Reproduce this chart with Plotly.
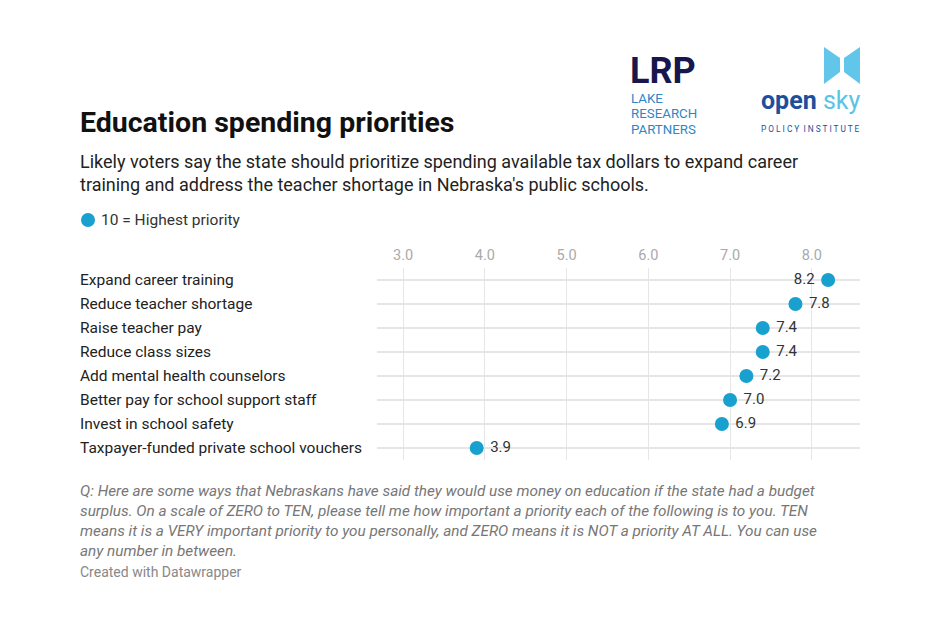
import plotly.graph_objects as go

categories = [
    "Expand career training",
    "Reduce teacher shortage",
    "Raise teacher pay",
    "Reduce class sizes",
    "Add mental health counselors",
    "Better pay for school support staff",
    "Invest in school safety",
    "Taxpayer-funded private school vouchers",
]
values = [8.2, 7.8, 7.4, 7.4, 7.2, 7.0, 6.9, 3.9]
value_labels = ["8.2", "7.8", "7.4", "7.4", "7.2", "7.0", "6.9", "3.9"]
tick_vals = [3, 4, 5, 6, 7, 8]
tick_text = ["3.0", "4.0", "5.0", "6.0", "7.0", "8.0"]

W, H = 940, 644
L, R, T, B = 377, 80, 268, 184
PW, PH = W - L - R, H - T - B

def px(x):
    return (x - L) / PW

def py(y):
    return (H - B - y) / PH

DOT = "#18a0cf"
FONT = "Roboto"

positions = ["middle left"] + ["middle right"] * (len(values) - 1)

fig = go.Figure()
fig.add_trace(go.Scatter(
    x=values, y=categories, mode="markers+text",
    marker=dict(size=14, color=DOT),
    text=[(" " + t + " ") for t in value_labels],
    textposition=positions,
    textfont=dict(family=FONT, size=15, color="#333333"),
    hoverinfo="skip", showlegend=False, cliponaxis=False,
))

annotations = []
for c in categories:
    annotations.append(dict(x=px(78), y=c, xref="paper", yref="y", text=c,
                            showarrow=False, xanchor="left", yanchor="middle",
                            font=dict(family=FONT, size=15.5, color="#222222")))

annotations += [
    dict(x=px(78), y=py(122), xref="paper", yref="paper",
         text="<b>Education spending priorities</b>", showarrow=False,
         xanchor="left", yanchor="middle",
         font=dict(family=FONT, size=28.5, color="#111111")),
    dict(x=px(78), y=py(173), xref="paper", yref="paper",
         text="Likely voters say the state should prioritize spending available tax dollars to expand career<br>training and address the teacher shortage in Nebraska's public schools.",
         showarrow=False, xanchor="left", yanchor="middle", align="left",
         font=dict(family=FONT, size=18, color="#222222")),
    dict(x=px(99), y=py(220), xref="paper", yref="paper",
         text="10 = Highest priority", showarrow=False, xanchor="left", yanchor="middle",
         font=dict(family=FONT, size=15.5, color="#333333")),
    dict(x=px(78), y=py(521), xref="paper", yref="paper",
         text="<i>Q: Here are some ways that Nebraskans have said they would use money on education if the state had a budget<br>surplus. On a scale of ZERO to TEN, please tell me how important a priority each of the following is to you. TEN<br>means it is a VERY important priority to you personally, and ZERO means it is NOT a priority AT ALL. You can use<br>any number in between.</i>",
         showarrow=False, xanchor="left", yanchor="middle", align="left",
         font=dict(family=FONT, size=15.3, color="#777777")),
    dict(x=px(78), y=py(572), xref="paper", yref="paper",
         text="Created with Datawrapper", showarrow=False, xanchor="left", yanchor="middle",
         font=dict(family=FONT, size=14, color="#888888")),
    # LRP logo text
    dict(x=px(628), y=py(71), xref="paper", yref="paper",
         text="<b>LRP</b>", showarrow=False, xanchor="left", yanchor="middle",
         font=dict(family="Roboto", size=36, color="#17174d")),
    dict(x=px(629), y=py(98), xref="paper", yref="paper",
         text="LAKE", showarrow=False, xanchor="left", yanchor="middle",
         font=dict(family="Roboto", size=13.3, color="#2f86c6")),
    dict(x=px(629), y=py(113.5), xref="paper", yref="paper",
         text="RESEARCH", showarrow=False, xanchor="left", yanchor="middle",
         font=dict(family="Roboto", size=13.3, color="#2f86c6")),
    dict(x=px(629), y=py(129), xref="paper", yref="paper",
         text="PARTNERS", showarrow=False, xanchor="left", yanchor="middle",
         font=dict(family="Roboto", size=13.3, color="#2f86c6")),
    # Open sky logo text
    dict(x=px(759), y=py(100), xref="paper", yref="paper",
         text="<b><span style='color:#1c4f9c'>open</span></b> <span style='color:#5bc3e6'>sky</span>",
         showarrow=False, xanchor="left", yanchor="middle",
         font=dict(family="Roboto", size=25, color="#1c4f9c")),
    dict(x=px(810), y=py(129), xref="paper", yref="paper",
         text="P O L I C Y  I N S T I T U T E", showarrow=False, xanchor="center", yanchor="middle",
         font=dict(family="Roboto", size=8.3, color="#1c4f9c")),
]

shapes = [
    dict(type="circle", xref="paper", yref="paper",
         x0=px(81), x1=px(95), y0=py(213), y1=py(227),
         fillcolor=DOT, line=dict(width=0)),
    dict(type="path", xref="paper", yref="paper",
         path=f"M {px(824)},{py(47)} L {px(840)},{py(58)} L {px(840)},{py(72)} L {px(824)},{py(84)} Z",
         fillcolor="#62c6ea", line=dict(width=0)),
    dict(type="path", xref="paper", yref="paper",
         path=f"M {px(860)},{py(47)} L {px(844)},{py(58)} L {px(844)},{py(72)} L {px(860)},{py(84)} Z",
         fillcolor="#62c6ea", line=dict(width=0)),
]

fig.update_layout(
    width=W, height=H,
    margin=dict(l=L, r=R, t=T, b=B, autoexpand=False),
    paper_bgcolor="white", plot_bgcolor="white",
    annotations=annotations, shapes=shapes,
    xaxis=dict(range=[2.68, 8.59], side="top", tickvals=tick_vals, ticktext=tick_text,
               showgrid=True, gridcolor="#e6e6e6", gridwidth=1, zeroline=False,
               showline=False, ticks="", ticklabelstandoff=4,
               tickfont=dict(family=FONT, size=14.5, color="#aaaaaa")),
    yaxis=dict(categoryorder="array", categoryarray=categories, autorange=False,
               range=[7.5, -0.5], showgrid=True, gridcolor="#e6e6e6", gridwidth=1.5,
               showticklabels=False, zeroline=False, showline=False, ticks=""),
    font=dict(family=FONT),
)

fig.write_html("out.html", config={"displayModeBar": False},
               post_script="document.body.style.margin='0';")
